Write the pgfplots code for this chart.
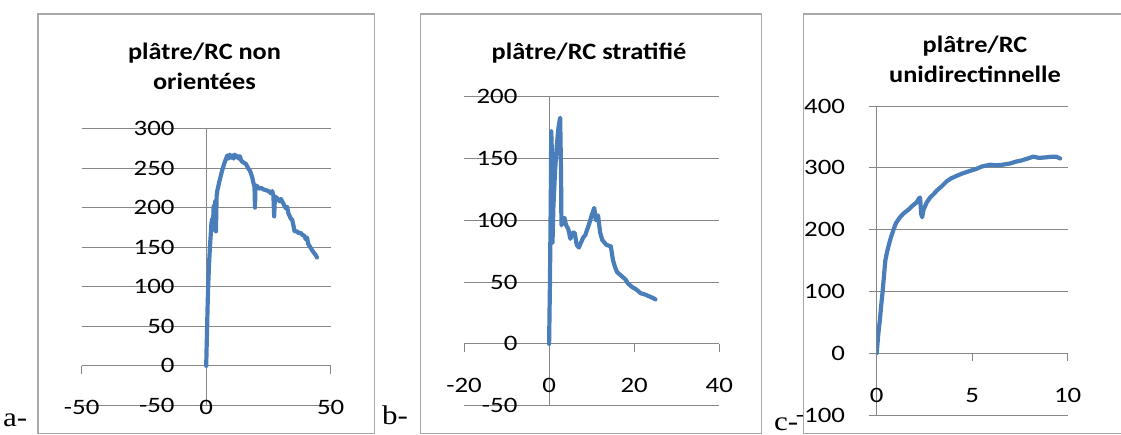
\documentclass[border=0pt]{standalone}
\usepackage{fontspec}
\setmainfont{Carlito}[FakeStretch=1.12]
\newfontfamily\tickfont{Carlito}[FakeStretch=1.22]
\newfontfamily\labelserif{Liberation Serif}[FakeStretch=1.15]
\usepackage{pgfplots}
\pgfplotsset{compat=1.18}
\definecolor{xlblue}{RGB}{74,126,187}
\definecolor{xlgrid}{RGB}{134,134,134}
\definecolor{xlborder}{RGB}{168,168,168}
\pgfplotsset{xl/.style={
  scale only axis, anchor=south west,
  axis lines=middle, axis line style={-, draw=xlgrid, line width=0.9pt},
  ymajorgrids, major grid style={draw=xlgrid, line width=0.9pt},
  tick style={draw=xlgrid, line width=0.9pt},
  tick align=outside, major tick length=8pt,
  hide obscured x ticks=false, hide obscured y ticks=false,
  /pgf/number format/assume math mode=true,
  ticklabel style={font=\tickfont\fontsize{22}{26}\selectfont, inner sep=0pt, text=black},
  xticklabel style={anchor=center, yshift=-34pt},
  yticklabel style={anchor=east, xshift=-23.5pt},
}}
\pgfplotstableread{
x y
0 0
0.3 40
0.6 80
0.9 110
1.2 132
1.5 150
1.8 165
2.1 180
2.4 186
2.7 176
3.0 202
3.3 172
3.6 208
3.9 170
4.2 215
4.5 222
4.8 226
5.2 232
5.6 237
6.0 242
6.5 248
7.0 253
7.5 258
8.0 262
8.5 266
9.0 262
9.5 267
10 263
10.5 266
11 262
11.5 267
12 264
12.5 265
13 262
13.5 265
14 260
14.5 258
15 257
15.5 256
16 255
16.5 252
17 249
17.5 247
18 243
18.5 238
19 231
19.4 226
19.6 200
19.8 228
20.5 227
21 224
22 225
23 223
24 222
25 221
26 218
26.5 221
27 215
27.3 189
27.6 214
28.5 212
29.5 208
30 211
31 205
32 199
32.5 201
33 193
34 186
34.5 185
35 178
35.5 170
36.5 170
37 168
38 168
38.5 166
39.5 164
40 160
40.5 162
41 154
42 149
43 144
44 140
44.5 137
}\dataA
\pgfplotstableread{
x y
0 0
0.2 50
0.4 120
0.5 172
0.7 150
0.8 82
1.0 110
1.4 140
1.8 160
2.2 175
2.6 183
2.8 140
2.9 96
3.2 100
3.6 102
4.0 96
4.5 93
5.0 85
5.5 90
6.0 90
6.5 80
7.0 78
7.5 82
8.0 86
8.5 88
9.0 93
9.5 98
10.0 104
10.6 110
11.0 100
11.5 104
12.0 90
12.5 84
13.0 82
13.5 80
14.5 79
15.0 68
15.5 62
16.0 58
17.0 55
18.0 52
18.5 49
19.5 46
20.5 44
21.5 41
22.5 40
23.5 38.5
24.5 37
25.0 36
}\dataB
\pgfplotstableread{
x y
0 0
0.08 30
0.17 55
0.25 82
0.31 100
0.38 125
0.45 150
0.55 165
0.65 177
0.75 188
0.87 199
1.0 210
1.22 220
1.4 226
1.65 232
1.85 238
2.09 244
2.2 250
2.27 252
2.33 225
2.38 220
2.45 232
2.62 244
2.8 252
3.0 258
3.14 263
3.4 270
3.66 278
3.9 283
4.19 287
4.5 291
4.88 295
5.2 298
5.5 302
5.93 305
6.3 304
6.6 305
6.98 307
7.3 310
7.6 312
7.9 315
8.2 318
8.5 316
8.9 317
9.2 318
9.4 318
9.6 315
}\dataC
\begin{document}
\begin{tikzpicture}
\useasboundingbox (0pt,0pt) rectangle (1121pt,435pt);
% panel frames
\draw[xlborder, line width=1.2pt] (38pt,1.7pt) rectangle (374.3pt,421pt);
\draw[xlborder, line width=1.2pt] (420.7pt,1.7pt) rectangle (761.7pt,421pt);
\draw[xlborder, line width=1.2pt] (803.3pt,1.7pt) rectangle (1140pt,421pt);
% panel a
\begin{axis}[xl, at={(81.7pt,29.5pt)}, width=249pt, height=277pt,
  xmin=-50, xmax=50, ymin=-50, ymax=300,
  xtick={-50,0,50}, ytick={-50,0,50,100,150,200,250,300}]
\addplot[xlblue, line width=4.2pt, line join=round, line cap=round, no marks] table[x=x,y=y]{\dataA};
\end{axis}
% panel b
\begin{axis}[xl, at={(464pt,29.3pt)}, width=255.3pt, height=309pt,
  xmin=-20, xmax=40, ymin=-50, ymax=200,
  xtick={-20,0,20,40}, ytick={-50,0,50,100,150,200}]
\addplot[xlblue, line width=4.2pt, line join=round, line cap=round, no marks] table[x=x,y=y]{\dataB};
\end{axis}
% panel c
\begin{axis}[xl, at={(876.7pt,20pt)}, width=191pt, height=309pt,
  xmin=0, xmax=10, ymin=-100, ymax=400,
  xtick={0,5,10}, ytick={-100,0,100,200,300,400}]
\addplot[xlblue, line width=4.2pt, line join=round, line cap=round, no marks] table[x=x,y=y]{\dataC};
\end{axis}
% titles
\begin{scope}[every node/.style={anchor=base, font=\bfseries\fontsize{23.5}{28}\selectfont, inner sep=0pt}]
\node at (204.5pt,375pt) {plâtre/RC non};
\node at (204.5pt,345.7pt) {orientées};
\node at (589pt,375.7pt) {plâtre/RC stratifié};
\node at (975pt,382.3pt) {plâtre/RC};
\node at (975pt,352.3pt) {unidirectinnelle};
\end{scope}
% panel labels
\begin{scope}[every node/.style={anchor=base west, font=\labelserif\fontsize{27}{30}\selectfont, inner sep=0pt}]
\node at (3pt,8pt) {a-};
\node at (382pt,10pt) {b-};
\node at (774pt,4pt) {c-};
\end{scope}
\end{tikzpicture}
\end{document}
